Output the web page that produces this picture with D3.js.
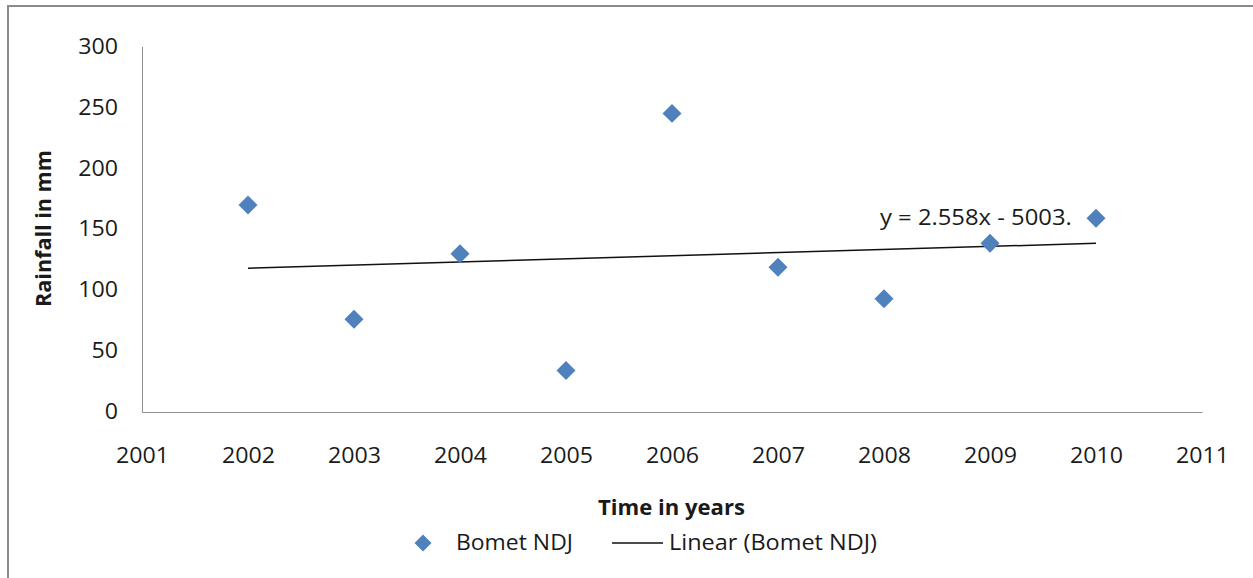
<!DOCTYPE html>
<html>
<head>
<meta charset="utf-8">
<script src="https://cdn.jsdelivr.net/npm/d3@7/dist/d3.min.js"></script>
<style>
  html, body { margin: 0; padding: 0; background: #fff; }
  svg { display: block; }
  text { font-family: "Open Sans", "Noto Sans", sans-serif; fill: #1a1a1a; }
</style>
</head>
<body>
<svg id="chart" width="1253" height="578"></svg>
<script>
// Bomet November–December–January rainfall totals
const years = [2002, 2003, 2004, 2005, 2006, 2007, 2008, 2009, 2010];
const rainfall = [169.9, 76.2, 129.8, 34.1, 245.1, 118.9, 92.9, 138.5, 159.0];
const xTicks = [2001, 2002, 2003, 2004, 2005, 2006, 2007, 2008, 2009, 2010, 2011];
const yTicks = [0, 50, 100, 150, 200, 250, 300];

// Linear trend as reported on the chart
const trendSlope = 2.558;
const trendIntercept = -5003.1;
const trendLabel = "y = 2.558x - 5003.";

const seriesName = "Bomet NDJ";
const trendName = "Linear (Bomet NDJ)";
const xTitle = "Time in years";
const yTitle = "Rainfall in mm";

const W = 1253, H = 578;
const plot = { left: 142, right: 1202, top: 46.5, bottom: 412 };
const markerColor = "#4F81BD";
const axisColor = "#8e8e8e";

const svg = d3.select("#chart");

// Stretch a text element horizontally around its anchor so it spans a given width
function fitWidth(sel, target, ax, ay) {
  sel.each(function () {
    const w = this.getComputedTextLength();
    if (!w) return;
    const k = target / w;
    d3.select(this).attr("transform",
      `translate(${ax},${ay}) scale(${k},1) translate(${-ax},${-ay})`);
  });
}

svg.append("rect").attr("width", W).attr("height", H).attr("fill", "#fff");

// Chart frame (runs off the right and bottom edges)
svg.append("rect")
  .attr("x", 8).attr("y", 6)
  .attr("width", W + 20).attr("height", H + 20)
  .attr("fill", "none").attr("stroke", "#8c8c8c").attr("stroke-width", 2);

const x = d3.scaleLinear().domain([2001, 2011]).range([plot.left, plot.right]);
const y = d3.scaleLinear().domain([0, 300]).range([plot.bottom, plot.top]);

// Y axis
const gy = svg.append("g")
  .attr("transform", `translate(${plot.left},0)`)
  .call(d3.axisLeft(y).tickValues(yTicks).tickSize(0).tickPadding(24).tickFormat(d3.format("d")));
gy.select(".domain").attr("stroke", axisColor).attr("stroke-width", 1);
gy.selectAll("text")
  .style("font-size", "21px").attr("fill", "#1a1a1a")
  .style("font-family", '"Open Sans", sans-serif');

// X axis
const gx = svg.append("g")
  .attr("transform", `translate(0,${plot.bottom})`)
  .call(d3.axisBottom(x).tickValues(xTicks).tickSize(0).tickPadding(36).tickFormat(d3.format("d")));
gx.select(".domain").attr("stroke", axisColor).attr("stroke-width", 1);
gx.selectAll("text")
  .style("font-size", "21px").attr("fill", "#1a1a1a")
  .style("font-family", '"Open Sans", sans-serif');

// Same horizontal proportion for all tick labels
const sample = gx.select("text").node();
const tickK = 53 / sample.getComputedTextLength();
gx.selectAll("text").attr("transform", `scale(${tickK},1)`);
gy.selectAll("text").attr("transform", `translate(-24,0) scale(${tickK},1) translate(24,0)`);

// Trend line
const trend = d => trendSlope * d + trendIntercept;
const x0 = d3.min(years), x1 = d3.max(years);
svg.append("line")
  .attr("x1", x(x0)).attr("y1", y(trend(x0)))
  .attr("x2", x(x1)).attr("y2", y(trend(x1)))
  .attr("stroke", "#111").attr("stroke-width", 1.5);

// Data markers (diamonds)
const diamond = d3.symbol().type(d3.symbolSquare).size(180);
svg.append("g").selectAll("path")
  .data(years.map((yr, i) => ({ yr, v: rainfall[i] })))
  .join("path")
  .attr("d", diamond)
  .attr("transform", d => `translate(${x(d.yr)},${y(d.v)}) rotate(45)`)
  .attr("fill", markerColor);

// Trend equation
const eq = svg.append("text")
  .attr("x", 880).attr("y", 218).attr("dy", "0.35em")
  .style("font-size", "21px")
  .text(trendLabel);
fitWidth(eq, 192, 880, 218);

// Axis titles
const xt = svg.append("text")
  .attr("x", 671.5).attr("y", 508).attr("dy", "0.35em")
  .attr("text-anchor", "middle")
  .style("font-size", "21px").style("font-weight", "bold")
  .text(xTitle);
fitWidth(xt, 147, 671.5, 508);

const ytG = svg.append("g").attr("transform", "translate(44,228.5) rotate(-90)");
const yt = ytG.append("text")
  .attr("x", 0).attr("y", 0).attr("dy", "0.35em")
  .attr("text-anchor", "middle")
  .style("font-size", "21px").style("font-weight", "bold")
  .text(yTitle);
fitWidth(yt, 157, 0, 0);

// Legend
const legY = 543;
svg.append("path")
  .attr("d", d3.symbol().type(d3.symbolSquare).size(145))
  .attr("transform", `translate(423,${legY}) rotate(45)`)
  .attr("fill", markerColor);
const l1 = svg.append("text")
  .attr("x", 456).attr("y", legY).attr("dy", "0.35em")
  .style("font-size", "21px")
  .text(seriesName);
fitWidth(l1, 117, 456, legY);

svg.append("line")
  .attr("x1", 612).attr("x2", 663).attr("y1", legY).attr("y2", legY)
  .attr("stroke", "#111").attr("stroke-width", 1.5);
const l2 = svg.append("text")
  .attr("x", 669).attr("y", legY).attr("dy", "0.35em")
  .style("font-size", "21px")
  .text(trendName);
fitWidth(l2, 208, 669, legY);
</script>
</body>
</html>
